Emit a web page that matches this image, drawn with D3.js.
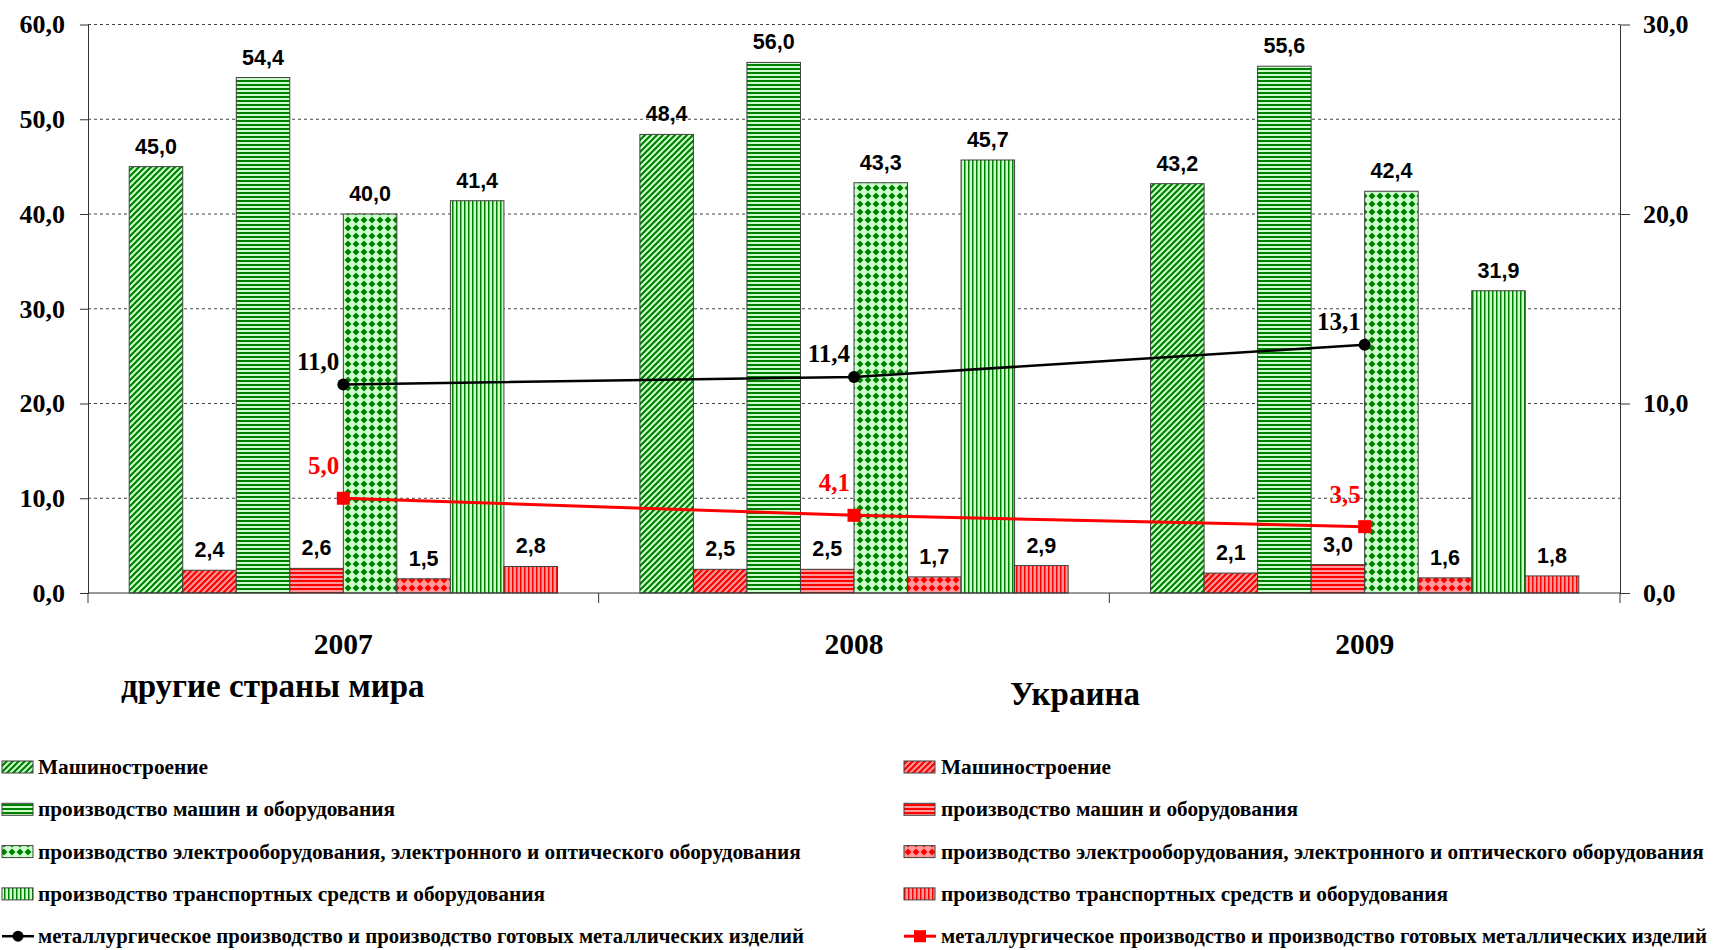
<!DOCTYPE html>
<html>
<head>
<meta charset="utf-8">
<script src="https://cdn.jsdelivr.net/npm/d3@7"></script>
<style>
  html, body { margin: 0; padding: 0; background: #fff; }
  svg { display: block; }
</style>
</head>
<body>
<div id="chart"></div>
<script>
// data
const years = ['2007', '2008', '2009'];
const barNames = [
  'Машиностроение',
  'производство машин и оборудования',
  'производство электрооборудования, электронного и оптического оборудования',
  'производство транспортных средств и оборудования'
];
const lineName = 'металлургическое производство и производство готовых металлических изделий';
const groupTitles = ['другие страны мира', 'Украина'];

// other countries (green), one array per industry, by year
const worldMachine = [45.0, 48.4, 43.2];
const worldEquip = [54.4, 56.0, 55.6];
const worldElectro = [40.0, 43.3, 42.4];
const worldTransport = [41.4, 45.7, 31.9];
const worldMetal = [11.0, 11.4, 13.1];

// Ukraine (red)
const uaMachine = [2.4, 2.5, 2.1];
const uaEquip = [2.6, 2.5, 3.0];
const uaElectro = [1.5, 1.7, 1.6];
const uaTransport = [2.8, 2.9, 1.8];
const uaMetal = [5.0, 4.1, 3.5];

const leftTicks = [0, 10, 20, 30, 40, 50, 60];
const rightTicks = [0, 10, 20, 30];

const worldBars = [worldMachine, worldEquip, worldElectro, worldTransport];
const uaBars = [uaMachine, uaEquip, uaElectro, uaTransport];
const patternKinds = ['diag', 'horiz', 'dots', 'vert'];

const width = 1720, height = 950;
const plot = { left: 88, right: 1620, top: 24.5, bottom: 593 };
const serif = '"Liberation Serif", "Times New Roman", serif';
const sans = '"Liberation Sans", Arial, sans-serif';
const fmt = v => d3.format('.1f')(v).replace('.', ',');

const svg = d3.select('#chart').append('svg')
  .attr('width', width)
  .attr('height', height);

// hatch patterns, like excel fills
const defs = svg.append('defs');
const palettes = {
  g: { light: '#ccffcc', dark: '#008000' },
  r: { light: '#ff9999', dark: '#ff0000' }
};
Object.entries(palettes).forEach(([k, c]) => {
  const diag = defs.append('pattern').attr('id', 'diag-' + k)
    .attr('patternUnits', 'userSpaceOnUse').attr('width', 6).attr('height', 6);
  diag.append('rect').attr('width', 6).attr('height', 6).attr('fill', c.light);
  diag.append('path').attr('d', 'M-1,1 L1,-1 M0,6 L6,0 M5,7 L7,5')
    .attr('stroke', c.dark).attr('stroke-width', 2.2);

  const horiz = defs.append('pattern').attr('id', 'horiz-' + k)
    .attr('patternUnits', 'userSpaceOnUse').attr('width', 4).attr('height', 4);
  horiz.append('rect').attr('width', 4).attr('height', 4).attr('fill', c.light);
  horiz.append('rect').attr('width', 4).attr('height', 2).attr('fill', c.dark);

  const dots = defs.append('pattern').attr('id', 'dots-' + k)
    .attr('patternUnits', 'userSpaceOnUse').attr('width', 8).attr('height', 8);
  dots.append('rect').attr('width', 8).attr('height', 8).attr('fill', c.light);
  dots.append('path').attr('d', 'M4,0.5 L7.5,4 L4,7.5 L0.5,4Z').attr('fill', c.dark);

  const vert = defs.append('pattern').attr('id', 'vert-' + k)
    .attr('patternUnits', 'userSpaceOnUse').attr('width', 4).attr('height', 4);
  vert.append('rect').attr('width', 4).attr('height', 4).attr('fill', c.light);
  vert.append('rect').attr('width', 1.5).attr('height', 4).attr('fill', c.dark);
});

// scales
const x0 = d3.scaleBand().domain(years).range([plot.left, plot.right]).padding(0);
const barKeys = [];
barNames.forEach((_, i) => { barKeys.push('g' + i, 'r' + i); });
const x1 = d3.scaleBand().domain(barKeys).range([0, x0.bandwidth()])
  .paddingInner(0).paddingOuter(0.77);
const yLeft = d3.scaleLinear().domain([0, 60]).range([plot.bottom, plot.top]);
const yRight = d3.scaleLinear().domain([0, 30]).range([plot.bottom, plot.top]);

// gridlines
svg.append('g').selectAll('line')
  .data(leftTicks.filter(t => t > 0))
  .join('line')
  .attr('x1', plot.left).attr('x2', plot.right)
  .attr('y1', d => yLeft(d)).attr('y2', d => yLeft(d))
  .attr('stroke', '#444').attr('stroke-width', 1)
  .attr('stroke-dasharray', '3,3');

// bars
const barData = [];
years.forEach((yr, j) => {
  barNames.forEach((_, i) => {
    barData.push({ year: yr, key: 'g' + i, value: worldBars[i][j], fill: `url(#${patternKinds[i]}-g)` });
    barData.push({ year: yr, key: 'r' + i, value: uaBars[i][j], fill: `url(#${patternKinds[i]}-r)` });
  });
});

svg.append('g').selectAll('rect')
  .data(barData)
  .join('rect')
  .attr('x', d => x0(d.year) + x1(d.key))
  .attr('y', d => yLeft(d.value))
  .attr('width', x1.bandwidth())
  .attr('height', d => yLeft(0) - yLeft(d.value))
  .attr('fill', d => d.fill)
  .attr('stroke', '#404040')
  .attr('stroke-width', 1);

svg.append('g').selectAll('text')
  .data(barData)
  .join('text')
  .attr('x', d => x0(d.year) + x1(d.key) + x1.bandwidth() / 2)
  .attr('y', d => yLeft(d.value) - 13)
  .attr('text-anchor', 'middle')
  .attr('font-family', sans)
  .attr('font-weight', 'bold')
  .attr('font-size', 21.5)
  .attr('fill', '#000')
  .text(d => fmt(d.value));

// axes
const axisColor = '#333';
const leftAxis = svg.append('g')
  .attr('transform', `translate(${plot.left},0)`)
  .call(d3.axisLeft(yLeft).tickValues(leftTicks).tickSize(8).tickSizeOuter(0).tickPadding(15).tickFormat(fmt));
const rightAxis = svg.append('g')
  .attr('transform', `translate(${plot.right},0)`)
  .call(d3.axisRight(yRight).tickValues(rightTicks).tickSize(10).tickSizeOuter(0).tickPadding(13).tickFormat(fmt));
[leftAxis, rightAxis].forEach(a => {
  a.select('.domain').attr('stroke', axisColor);
  a.selectAll('.tick line').attr('stroke', axisColor);
  a.selectAll('.tick text')
    .attr('font-family', serif)
    .attr('font-weight', 'bold')
    .attr('font-size', 26)
    .attr('fill', '#000');
});

// category axis
const bottom = svg.append('g');
bottom.append('line')
  .attr('x1', plot.left).attr('x2', plot.right)
  .attr('y1', plot.bottom).attr('y2', plot.bottom)
  .attr('stroke', axisColor);
const bounds = years.map(y => x0(y)).concat([x0(years[years.length - 1]) + x0.bandwidth()]);
bottom.selectAll('line.bound')
  .data(bounds)
  .join('line')
  .attr('class', 'bound')
  .attr('x1', d => d).attr('x2', d => d)
  .attr('y1', plot.bottom).attr('y2', plot.bottom + 10)
  .attr('stroke', axisColor);
bottom.selectAll('text')
  .data(years)
  .join('text')
  .attr('x', d => x0(d) + x0.bandwidth() / 2)
  .attr('y', 654)
  .attr('text-anchor', 'middle')
  .attr('font-family', serif)
  .attr('font-weight', 'bold')
  .attr('font-size', 29.5)
  .text(d => d);

// lines on right axis
const lineSeries = [
  { values: worldMetal, color: '#000', marker: 'circle', width: 2.5 },
  { values: uaMetal, color: '#ff0000', marker: 'square', width: 3 }
];
const lineGen = d3.line()
  .x((d, i) => x0(years[i]) + x0.bandwidth() / 2)
  .y(d => yRight(d));

lineSeries.forEach((s, si) => {
  const g = svg.append('g');
  g.append('path')
    .attr('d', lineGen(s.values))
    .attr('fill', 'none')
    .attr('stroke', s.color)
    .attr('stroke-width', s.width);
  const pts = s.values.map((v, i) => ({ x: x0(years[i]) + x0.bandwidth() / 2, y: yRight(v), v }));
  if (s.marker === 'circle') {
    g.selectAll('circle').data(pts).join('circle')
      .attr('cx', d => d.x).attr('cy', d => d.y).attr('r', 6)
      .attr('fill', s.color);
  } else {
    g.selectAll('rect').data(pts).join('rect')
      .attr('x', d => d.x - 6.5).attr('y', d => d.y - 6.5)
      .attr('width', 13).attr('height', 13)
      .attr('fill', s.color);
  }
  g.selectAll('text').data(pts).join('text')
    .attr('x', d => d.x - 4)
    .attr('y', d => d.y - (si === 0 ? 15 : 24))
    .attr('text-anchor', 'end')
    .attr('font-family', serif)
    .attr('font-weight', 'bold')
    .attr('font-size', 25)
    .attr('fill', s.color)
    .text(d => fmt(d.v));
});

// group titles
svg.append('text')
  .attr('x', 121).attr('y', 697)
  .attr('font-family', serif).attr('font-weight', 'bold').attr('font-size', 33)
  .text(groupTitles[0]);
svg.append('text')
  .attr('x', 1010).attr('y', 705)
  .attr('font-family', serif).attr('font-weight', 'bold').attr('font-size', 33)
  .text(groupTitles[1]);

// legends
const legendCols = [
  { x: 2, textX: 38, pal: 'g', line: lineSeries[0] },
  { x: 904, textX: 941, pal: 'r', line: lineSeries[1] }
];
legendCols.forEach(col => {
  const lg = svg.append('g');
  const rowY = i => 767 + i * 42.3;
  barNames.forEach((name, i) => {
    lg.append('rect')
      .attr('x', col.x).attr('y', rowY(i) - 6)
      .attr('width', 31).attr('height', 12)
      .attr('fill', `url(#${patternKinds[i]}-${col.pal})`)
      .attr('stroke', '#404040');
    lg.append('text')
      .attr('x', col.textX).attr('y', rowY(i) + 7)
      .attr('font-family', serif).attr('font-weight', 'bold').attr('font-size', 21.3)
      .text(name);
  });
  const ly = rowY(4);
  lg.append('line')
    .attr('x1', col.x).attr('x2', col.x + 32)
    .attr('y1', ly).attr('y2', ly)
    .attr('stroke', col.line.color).attr('stroke-width', col.line.width);
  if (col.line.marker === 'circle') {
    lg.append('circle').attr('cx', col.x + 16).attr('cy', ly).attr('r', 5.5).attr('fill', col.line.color);
  } else {
    lg.append('rect').attr('x', col.x + 10).attr('y', ly - 6).attr('width', 12).attr('height', 12).attr('fill', col.line.color);
  }
  lg.append('text')
    .attr('x', col.textX).attr('y', ly + 7)
    .attr('font-family', serif).attr('font-weight', 'bold').attr('font-size', 20.8)
    .text(lineName);
});
</script>
</body>
</html>
